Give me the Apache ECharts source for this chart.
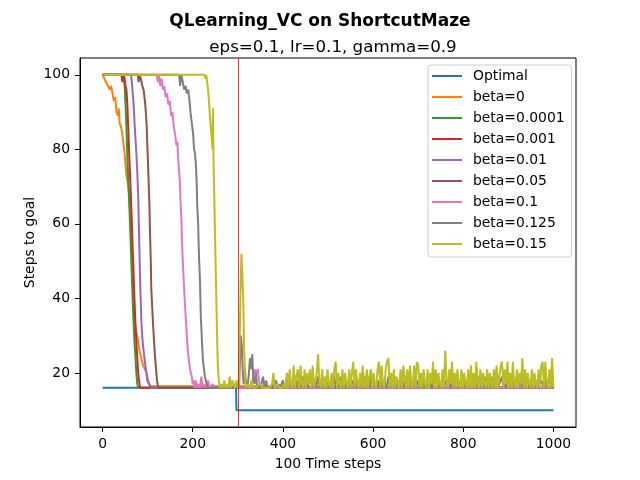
<!DOCTYPE html>
<html style="height: 100%">
<head>
<meta charset="utf-8">
<script src="https://cdn.jsdelivr.net/npm/echarts@6/dist/echarts.min.js"></script>
</head>
<body style="height: 100%; margin: 0; background: #fff">
<div id="container" style="width: 640px; height: 480px"></div>
<script>
// names + colours (matplotlib tab10)
var names = ['Optimal', 'beta=0', 'beta=0.0001', 'beta=0.001', 'beta=0.01', 'beta=0.05', 'beta=0.1', 'beta=0.125', 'beta=0.15'];
var colors = ['#1f77b4', '#ff7f0e', '#2ca02c', '#d62728', '#9467bd', '#8c564b', '#e377c2', '#7f7f7f', '#bcbd22'];
var xTicks = [0, 200, 400, 600, 800, 1000];
var yTicks = [20, 40, 60, 80, 100];
var changeAt = 300;

// [step, steps to goal]
var optimal = [[0, 16], [296, 16], [297, 10], [1000, 10]];

var beta0 = [[0, 100], [4, 99], [8, 98], [12, 97], [16, 96], [19, 97], [22, 95], [25, 93], [28, 94], [31, 90], [34, 89],
    [36, 91], [38, 87], [41, 86], [44, 84], [47, 81], [49, 79], [51, 76], [53, 73], [56, 71], [58, 69], [60, 66], [62, 60],
    [64, 54], [66, 50], [68, 44], [70, 37], [72, 33], [75, 31], [78, 29], [82, 26], [86, 24], [90, 22], [94, 21], [98, 20],
    [101, 18], [104, 17], [107, 16.4], [298, 16.4], [300, 16], [1000, 16]];

var beta0001 = [[0, 100], [46, 100], [49, 97], [51, 92], [53, 86], [55, 78], [57, 72], [59, 66], [61, 60], [63, 53],
    [65, 46], [67, 39], [69, 33], [71, 28], [73, 24], [75, 20], [77, 17], [79, 16], [1000, 16]];

var beta001 = [[0, 100], [42, 100], [44, 98], [46, 100], [49, 99], [51, 97], [53, 96], [55, 92], [57, 86], [59, 79],
    [61, 73], [63, 67], [65, 60], [67, 53], [69, 46], [71, 39], [73, 33], [75, 28], [77, 24], [79, 20], [81, 18], [83, 16],
    [1000, 16]];

var beta01 = [[0, 100], [63, 100], [65, 98], [67, 95], [69, 92], [71, 87], [73, 83], [75, 79], [77, 74], [79, 68],
    [80, 62], [82, 52], [84, 42], [86, 34], [88, 30], [90, 27], [93, 24], [96, 21], [99, 18], [103, 17], [108, 16], [1000, 16]];

var beta05 = [[0, 100], [78, 100], [80, 98], [82, 100], [85, 99], [88, 97], [91, 96], [94, 93], [96, 90], [98, 86],
    [99, 82], [101, 76], [102, 72], [104, 65], [105, 59], [107, 50], [108, 43], [110, 38], [112, 33], [114, 29], [116, 25],
    [118, 22], [120, 19], [122, 17], [124, 16], [1000, 16]];

var beta1 = [[0, 100], [120, 100], [123, 98], [125, 100], [128, 97], [131, 99], [134, 96], [137, 97], [140, 94],
    [143, 95], [146, 92], [149, 93], [152, 89], [155, 90], [158, 86], [161, 84], [164, 81], [166, 82], [168, 77], [170, 74],
    [172, 70], [173, 66], [175, 61], [176, 56], [178, 50], [180, 45], [182, 40], [184, 36], [186, 32], [188, 28], [190, 25],
    [192, 23], [194, 21], [196, 20], [198, 19], [200, 17], [202, 18], [204, 16], [207, 18], [210, 16], [213, 17], [216, 16],
    [219, 19], [222, 16], [226, 17], [230, 16], [234, 18], [238, 16], [244, 17], [248, 16], [330, 16], [334, 19], [337, 21],
    [340, 20], [344, 21], [348, 17], [352, 16], [1000, 16]];

var beta125 = [[0, 100], [170, 100], [172, 97], [175, 100], [178, 98], [181, 96], [184, 97], [187, 95], [190, 96],
    [193, 93], [195, 90], [197, 88], [199, 86], [201, 84], [203, 80], [205, 79], [207, 76], [209, 70], [210, 65], [212, 60],
    [213, 55], [214, 51], [216, 45], [217, 40], [218, 35], [220, 30], [221, 27], [223, 23], [225, 21], [227, 19], [229, 18],
    [231, 17], [233, 16], [300, 16], [303, 17], [305, 24], [307, 30], [309, 27], [311, 20], [313, 17], [316, 21], [318, 17],
    [321, 16], [324, 19], [327, 24], [329, 21], [332, 25], [334, 19], [337, 17], [340, 20], [343, 16], [348, 16], [352, 17],
    [356, 19], [359, 16], [363, 18], [366, 16]];
// every 3 steps from 370 to 1000
var beta125Tail = [16, 16, 17, 16, 16, 18, 16, 17, 16, 16,
    18, 16, 17, 19, 16, 16, 18, 17, 16, 19,
    16, 18, 17, 16, 19, 16, 17, 18, 16, 16,
    19, 17, 16, 18, 16, 17, 19, 16, 18, 16,
    17, 16, 19, 18, 16, 17, 16, 18, 19, 16,
    18, 16, 17, 19, 16, 18, 16, 17, 16, 19,
    16, 18, 17, 16, 19, 16, 18, 17, 16, 18,
    19, 16, 17, 18, 16, 19, 16, 18, 17, 16,
    18, 16, 19, 17, 16, 18, 16, 17, 19, 16,
    17, 18, 16, 19, 16, 17, 18, 16, 19, 17,
    16, 18, 19, 16, 17, 18, 16, 19, 16, 18,
    17, 16, 18, 19, 16, 17, 18, 16, 19, 17,
    16, 18, 17, 19, 16, 18, 16, 17, 19, 16,
    18, 17, 16, 19, 16, 18, 17, 16, 18, 19,
    16, 17, 19, 16, 18, 16, 17, 19, 16, 18,
    17, 16, 18, 16, 19, 17, 16, 18, 19, 16,
    19, 16, 17, 18, 16, 19, 16, 17, 18, 16,
    16, 18, 19, 16, 17, 16, 18, 19, 16, 17,
    18, 16, 17, 19, 16, 18, 17, 16, 19, 16,
    17, 19, 16, 18, 16, 17, 19, 16, 18, 16,
    16, 18, 17, 16, 19, 16, 18, 17, 19, 16,
    16];

var beta15 = [[0, 100], [226, 100], [228, 99], [230, 100], [232, 98], [234, 96], [236, 93], [238, 89], [240, 86],
    [242, 83], [244, 80], [245, 91], [246, 78], [247, 72], [248, 66], [249, 60], [250, 54], [251, 48], [252, 42], [253, 36],
    [254, 30], [255, 25], [256, 21], [258, 18], [260, 16], [264, 17], [267, 16], [270, 18], [273, 16], [276, 17], [279, 16],
    [282, 19], [285, 16], [288, 18], [291, 17], [294, 16], [297, 18], [300, 16], [302, 17], [304, 28], [306, 42], [308, 52],
    [310, 47], [312, 40], [314, 27], [316, 19], [318, 16], [322, 17], [326, 16], [330, 18], [334, 16], [340, 16], [348, 17],
    [355, 16], [362, 16], [370, 16], [376, 17], [379, 20], [382, 16], [388, 17], [392, 16], [398, 16], [402, 17]];
// every 3 steps from 406 to 1000
var beta15Tail = [16, 20, 16, 21, 17, 16, 22, 16, 19, 21,
    16, 22, 17, 16, 21, 16, 20, 17, 21, 16,
    22, 16, 18, 20, 25, 17, 16, 21, 16, 19,
    16, 21, 17, 16, 20, 16, 21, 23, 16, 20,
    17, 16, 21, 16, 20, 17, 16, 21, 16, 20,
    23, 16, 21, 17, 16, 20, 16, 22, 17, 16,
    21, 16, 19, 21, 16, 20, 17, 16, 21, 23,
    16, 22, 17, 16, 21, 23, 24, 16, 20, 16,
    21, 16, 19, 17, 16, 21, 16, 22, 22, 16,
    21, 16, 22, 17, 16, 22, 16, 23, 22, 16,
    20, 16, 21, 17, 16, 21, 16, 20, 17, 23,
    16, 21, 16, 20, 17, 16, 21, 16, 26, 18,
    16, 21, 17, 23, 16, 20, 16, 21, 17, 16,
    21, 16, 20, 17, 16, 21, 16, 22, 16, 20,
    16, 23, 17, 16, 21, 16, 20, 17, 16, 21,
    16, 20, 17, 16, 21, 16, 22, 16, 19, 22,
    23, 16, 21, 17, 23, 16, 20, 16, 23, 17,
    16, 21, 16, 20, 17, 24, 16, 21, 16, 20,
    17, 16, 21, 16, 20, 17, 16, 21, 16, 22,
    23, 16, 23, 17, 16, 21, 16, 24, 16];

function withTail(head, tail, x0, step) {
    var out = head.slice();
    tail.forEach(function (v, i) { out.push([x0 + i * step, v]); });
    return out;
}

var seriesData = [optimal, beta0, beta0001, beta001, beta01, beta05, beta1,
    withTail(beta125, beta125Tail, 370, 3), withTail(beta15, beta15Tail, 406, 3)];

var font = 'DejaVu Sans';

var series = names.map(function (n, i) {
    var s = {
        name: n,
        type: 'line',
        data: seriesData[i],
        showSymbol: false,
        symbol: 'none',
        lineStyle: {width: 2, color: colors[i]},
        itemStyle: {color: colors[i]},
        animation: false
    };
    if (i === names.length - 1) {
        s.markLine = {
            silent: true,
            symbol: 'none',
            label: {show: false},
            lineStyle: {color: '#ff0000', width: 0.8, type: 'solid'},
            data: [{xAxis: changeAt}]
        };
    }
    return s;
});

var dom = document.getElementById('container');
var myChart = echarts.init(dom);

var option = {
    backgroundColor: '#fff',
    animation: false,
    textStyle: {fontFamily: font},
    title: [
        {
            text: 'QLearning_VC on ShortcutMaze',
            left: 'center',
            top: 8,
            textStyle: {fontFamily: font, fontSize: 17, fontWeight: 'bold', color: '#000'}
        },
        {
            text: 'eps=0.1, lr=0.1, gamma=0.9',
            left: 328,
            textAlign: 'center',
            top: 34,
            textStyle: {fontFamily: font, fontSize: 16.7, fontWeight: 'normal', color: '#000'}
        }
    ],
    legend: {
        orient: 'vertical',
        left: 428,
        top: 65,
        padding: [4, 7, 6, 4],
        itemGap: 7,
        itemWidth: 30,
        itemHeight: 2,
        icon: 'rect',
        backgroundColor: 'rgba(255,255,255,0.8)',
        borderColor: '#cccccc',
        borderWidth: 1,
        borderRadius: 3,
        textStyle: {fontFamily: font, fontSize: 13.9, color: '#000', lineHeight: 14, padding: [0, 0, 0, 6]},
        data: names
    },
    grid: {
        left: 80,
        right: 64,
        top: 58,
        bottom: 53,
        show: true,
        borderColor: '#000',
        borderWidth: 1,
        containLabel: false
    },
    xAxis: {
        type: 'value',
        min: -50,
        max: 1050,
        name: '100 Time steps',
        nameLocation: 'middle',
        nameGap: 30,
        nameTextStyle: {fontFamily: font, fontSize: 13.9, color: '#000'},
        axisLine: {show: true, onZero: false, lineStyle: {color: '#000', width: 1}},
        axisTick: {show: true, length: 5, lineStyle: {color: '#000'}, customValues: xTicks},
        axisLabel: {color: '#000', fontSize: 13.9, fontFamily: font, margin: 10, customValues: xTicks,
            formatter: function (v) { return String(v); }},
        splitLine: {show: false}
    },
    yAxis: {
        type: 'value',
        min: 5.5,
        max: 104.5,
        name: 'Steps to goal',
        nameLocation: 'middle',
        nameGap: 43,
        nameMoveOverlap: false,
        nameTextStyle: {fontFamily: font, fontSize: 13.9, color: '#000'},
        axisLine: {show: true, onZero: false, lineStyle: {color: '#000', width: 1}},
        axisTick: {show: true, length: 5, lineStyle: {color: '#000'}, customValues: yTicks},
        axisLabel: {color: '#000', fontSize: 13.9, fontFamily: font, margin: 10, customValues: yTicks,
            formatter: function (v) { return String(v); }},
        splitLine: {show: false}
    },
    series: series
};

if (option && typeof option === 'object') {
    myChart.setOption(option);
}
</script>
</body>
</html>
